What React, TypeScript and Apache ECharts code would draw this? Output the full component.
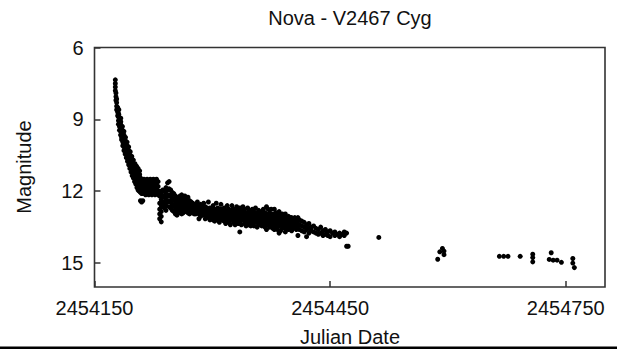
import React, { useEffect, useRef } from "react";
import * as echarts from "echarts";

const JD0 = 2454150;

// [days after JD0, magnitudes observed around that day]
const declineObs: [number, number[]][] = [
  [26.5, [7.35, 7.5, 7.65, 7.8]],
  [27.3, [7.9, 8.05, 8.2]],
  [28.2, [8.15, 8.3, 8.45, 8.6]],
  [29.5, [8.5, 8.7, 8.85]],
  [30.5, [8.75, 8.9, 9.05, 9.2]],
  [31.8, [8.95, 9.15, 9.3, 9.45]],
  [33.2, [9.2, 9.35, 9.5, 9.65]],
  [34.5, [9.4, 9.55, 9.75, 9.85]],
  [36, [9.6, 9.8, 9.95, 10.1]],
  [37.5, [9.8, 10.0, 10.15, 10.3]],
  [39, [9.95, 10.15, 10.3, 10.45]],
  [40.5, [10.1, 10.3, 10.45, 10.6]],
  [42, [10.25, 10.45, 10.6, 10.75]],
  [43.5, [10.4, 10.6, 10.75, 10.9]],
  [45, [10.55, 10.75, 10.9, 11.05]],
  [46.5, [10.7, 10.9, 11.05, 11.2]],
  [48, [10.85, 11.0, 11.2, 11.35]],
  [49.5, [10.95, 11.15, 11.3, 11.45]],
  [51, [11.1, 11.3, 11.45, 11.6]],
  [52.5, [11.15, 11.35, 11.55, 11.7]],
  [54, [11.3, 11.5, 11.65, 11.85]],
  [55.5, [11.35, 11.55, 11.75, 11.95]],
  [57, [11.4, 11.6, 11.8, 12.0]],
];

// later-day observers scattered to the right of the decline
const declineLateObs: [number, number[]][] = [
  [31, [8.6, 8.8]],
  [33.5, [8.95, 9.1]],
  [35.5, [9.3, 9.45]],
  [37.5, [9.5, 9.65]],
  [39.5, [9.75, 9.9]],
  [41.5, [9.95, 10.1]],
  [43.5, [10.15, 10.3]],
  [45.5, [10.35, 10.5]],
  [47.5, [10.55, 10.65]],
  [49.5, [10.7, 10.85]],
  [51.5, [10.85, 10.95]],
  [53.5, [10.95, 11.1]],
  [55.5, [11.05, 11.2]],
  [57.5, [11.15, 11.3]],
];

const plateauObs: [number, number[]][] = [
  [58.5, [11.45, 11.65, 11.85, 12.05, 12.4]],
  [60, [11.5, 11.7, 11.9, 12.1, 12.45]],
  [61.5, [11.55, 11.75, 11.95, 12.1, 12.4]],
  [63, [11.5, 11.7, 11.85, 12.05]],
  [65, [11.55, 11.75, 11.95, 12.15]],
  [67, [11.5, 11.7, 11.9, 12.1]],
  [69, [11.55, 11.8, 12.0, 12.15]],
  [71, [11.5, 11.7, 11.9, 12.1]],
  [73, [11.55, 11.75, 11.95, 12.15]],
  [75, [11.5, 11.7, 11.9, 12.05]],
  [77, [11.55, 11.75, 11.95, 12.15]],
  [79, [11.5, 11.7, 11.9, 12.1]],
  [81, [11.6, 11.8, 12.0, 12.15]],
  [83, [12.0, 12.2, 12.5, 12.75, 12.95, 13.15]],
  [85, [12.1, 12.35, 12.6, 12.85, 13.05, 13.28]],
  [87, [11.95, 12.2, 12.45, 12.65]],
  [89, [12.0, 12.25, 12.5, 12.7]],
  [91, [11.85, 12.1, 12.35, 12.6, 12.8]],
  [93, [11.65, 11.95, 12.2, 12.45]],
  [95, [11.6, 11.9, 12.15, 12.4, 12.65]],
  [97, [11.95, 12.2, 12.45, 12.7]],
  [99, [12.05, 12.3, 12.55, 12.8]],
  [101, [12.1, 12.35, 12.6, 12.85]],
  [103, [12.2, 12.45, 12.7, 12.95]],
  [105, [12.3, 12.55, 12.8, 13.0]],
  [107, [12.25, 12.45, 12.7, 12.9]],
  [109, [12.2, 12.4, 12.6, 12.85]],
];

const slowObs: [number, number[]][] = [
  [111, [12.15, 12.35, 12.55, 12.75, 12.95]],
  [113, [12.3, 12.5, 12.7, 12.9]],
  [115, [12.2, 12.45, 12.65, 12.85]],
  [117, [12.35, 12.55, 12.75]],
  [119, [12.25, 12.45, 12.65, 12.9]],
  [121, [12.4, 12.6, 12.8, 12.95]],
  [123, [12.45, 12.65, 12.85]],
  [125, [12.5, 12.7, 12.9]],
  [127, [12.55, 12.75, 12.95]],
  [129, [12.6, 12.8, 12.95]],
  [131, [12.45, 12.65, 12.85]],
  [133, [12.6, 12.75, 12.95, 13.15]],
  [135, [12.55, 12.7, 12.9, 13.05]],
  [137, [12.65, 12.85, 13.0]],
  [139, [12.5, 12.7, 12.9]],
  [141, [12.65, 12.8, 13.0, 13.15]],
  [143, [12.7, 12.9, 13.05]],
  [145, [12.45, 12.75, 12.95, 13.1]],
  [147, [12.7, 12.85, 13.05, 13.2]],
  [149, [12.75, 12.95, 13.1]],
  [151, [12.6, 12.8, 13.0, 13.2]],
  [153, [12.75, 12.9, 13.1, 13.25]],
  [155, [12.5, 12.8, 12.95, 13.15]],
  [157, [12.7, 12.9, 13.05, 13.2]],
  [159, [12.8, 12.95, 13.15, 13.3]],
  [161, [12.55, 12.75, 12.9, 13.1]],
  [163, [12.8, 13.0, 13.2]],
  [165, [12.7, 12.9, 13.05, 13.25]],
  [167, [12.85, 13.0, 13.15, 13.35]],
  [169, [12.6, 12.8, 13.0, 13.2]],
  [171, [12.75, 12.95, 13.1, 13.3]],
  [173, [12.85, 13.05, 13.2, 13.4]],
  [175, [12.6, 12.8, 12.95, 13.15]],
  [177, [12.75, 12.9, 13.1, 13.3]],
  [179, [12.85, 13.0, 13.2, 13.4]],
  [181, [12.65, 12.85, 13.05, 13.25]],
  [183, [12.8, 12.95, 13.15, 13.35]],
  [185, [12.7, 12.9, 13.1, 13.3, 13.7]],
  [187, [12.85, 13.05, 13.2, 13.4]],
  [189, [12.65, 12.8, 13.0, 13.2]],
  [191, [12.75, 12.95, 13.15, 13.35]],
  [193, [12.9, 13.05, 13.25, 13.45]],
  [195, [12.7, 12.9, 13.1, 13.3]],
  [197, [12.8, 13.0, 13.2, 13.4]],
  [199, [12.9, 13.1, 13.3, 13.45]],
  [201, [12.75, 12.95, 13.15, 13.35]],
  [203, [12.85, 13.05, 13.25, 13.45]],
  [205, [12.7, 12.95, 13.15, 13.3]],
  [207, [12.9, 13.1, 13.3, 13.5]],
  [209, [12.8, 13.0, 13.2, 13.4]],
  [211, [12.95, 13.15, 13.35]],
  [213, [12.85, 13.05, 13.25, 13.45]],
  [215, [12.75, 13.0, 13.2, 13.4]],
  [217, [12.9, 13.1, 13.3, 13.5]],
  [219, [12.65, 12.95, 13.15, 13.35, 13.6]],
  [221, [12.75, 13.0, 13.2, 13.4]],
  [223, [12.9, 13.1, 13.3, 13.5]],
  [225, [12.75, 13.05, 13.25, 13.45]],
  [227, [12.95, 13.15, 13.35, 13.55]],
  [229, [12.75, 13.0, 13.2, 13.4, 13.6]],
  [231, [12.9, 13.1, 13.3, 13.5]],
  [233, [13.0, 13.2, 13.4, 13.6]],
  [235, [12.85, 13.05, 13.25, 13.45, 13.75]],
  [237, [13.0, 13.2, 13.4, 13.65]],
  [239, [12.95, 13.15, 13.35, 13.55]],
  [241, [13.05, 13.25, 13.45]],
  [243, [12.95, 13.15, 13.35, 13.55, 13.7]],
  [245, [13.1, 13.3, 13.5]],
  [247, [13.05, 13.2, 13.4, 13.6]],
  [249, [13.1, 13.3, 13.5]],
  [251, [13.1, 13.25, 13.45, 13.65]],
  [253, [13.15, 13.35, 13.55]],
  [255, [13.1, 13.3, 13.5]],
  [257, [13.15, 13.4, 13.6]],
  [259, [13.1, 13.25, 13.45, 13.85]],
  [261, [13.2, 13.4, 13.6]],
  [264, [13.25, 13.45, 13.65]],
  [267, [13.3, 13.5, 13.7]],
  [270, [13.4, 13.6, 13.9]],
  [273, [13.35, 13.55, 13.75]],
  [276, [13.5, 13.65]],
  [279, [13.45, 13.7]],
  [282, [13.55, 13.75]],
  [285, [13.6, 13.8]],
  [288, [13.5, 13.75]],
  [291, [13.65, 13.85]],
  [294, [13.6, 13.8]],
  [297, [13.7, 13.85]],
  [300, [13.65, 13.9]],
  [303, [13.75]],
  [306, [13.7, 13.85]],
  [309, [13.8]],
  [312, [13.75, 13.9]],
  [315, [13.8]],
  [318, [13.7, 13.85]],
  [321, [13.75, 14.3]],
  [323, [14.3]],
];

const tailObs: [number, number[]][] = [
  [362, [13.93]],
  [437, [14.84]],
  [439.6, [14.53]],
  [443, [14.39]],
  [445, [14.5, 14.65]],
  [515.5, [14.72]],
  [521, [14.72]],
  [526.5, [14.72]],
  [542, [14.72]],
  [558, [14.63, 14.77, 14.95]],
  [579, [14.85]],
  [581.5, [14.57]],
  [584, [14.88]],
  [589, [14.88]],
  [594.5, [14.97]],
  [609, [14.81, 15.0]],
  [611, [15.19]],
];

const xTicks = [2454150, 2454450, 2454750];
const yTicks = [6, 9, 12, 15];

const FONT = "'Liberation Sans', Arial, Helvetica, sans-serif";

export default function App() {
  const ref = useRef<HTMLDivElement>(null);
  useEffect(() => {
    if (!ref.current) return;
    const chart = echarts.init(ref.current, undefined, { renderer: "svg" });
    const points = [
      ...declineObs,
      ...declineLateObs,
      ...plateauObs,
      ...slowObs,
      ...tailObs,
    ].flatMap(([d, ms]) => ms.map((m) => [JD0 + d, m]));
    chart.setOption({
      animation: false,
      backgroundColor: "#ffffff",
      grid: {
        left: 94.5,
        right: 12,
        top: 47.5,
        bottom: 62,
        show: true,
        borderColor: "#333",
        borderWidth: 1.6,
        backgroundColor: "transparent",
      },
      xAxis: {
        type: "value",
        min: 2454150,
        max: 2454800,
        axisLine: { show: false },
        splitLine: { show: false },
        axisTick: {
          show: true,
          inside: true,
          length: 6,
          customValues: xTicks,
          lineStyle: { color: "#333", width: 1.5 },
        },
        axisLabel: {
          customValues: xTicks,
          formatter: (v: number) => String(v),
          fontSize: 20,
          fontFamily: FONT,
          color: "#111",
          margin: 11,
        },
      },
      yAxis: {
        type: "value",
        inverse: true,
        min: 6,
        max: 16,
        axisLine: { show: false },
        splitLine: { show: false },
        axisTick: {
          show: true,
          inside: true,
          length: 6,
          customValues: yTicks,
          lineStyle: { color: "#333", width: 1.5 },
        },
        axisLabel: {
          customValues: yTicks,
          formatter: (v: number) => String(v),
          fontSize: 20,
          fontFamily: FONT,
          color: "#111",
          margin: 11,
        },
      },
      graphic: [
        {
          type: "text",
          x: 350,
          y: 18,
          style: {
            text: "Nova - V2467 Cyg",
            fontSize: 20,
            fontFamily: FONT,
            fill: "#111",
            textAlign: "center",
            textVerticalAlign: "middle",
          },
        },
        {
          type: "text",
          x: 350,
          y: 337,
          style: {
            text: "Julian Date",
            fontSize: 20,
            fontFamily: FONT,
            fill: "#111",
            textAlign: "center",
            textVerticalAlign: "middle",
          },
        },
        {
          type: "text",
          x: 24,
          y: 167,
          rotation: Math.PI / 2,
          style: {
            text: "Magnitude",
            fontSize: 20,
            fontFamily: FONT,
            fill: "#111",
            textAlign: "center",
            textVerticalAlign: "middle",
          },
        },
        {
          type: "rect",
          shape: { x: 0, y: 346.5, width: 617, height: 2.5 },
          style: { fill: "#000" },
        },
      ],
      series: [
        {
          type: "scatter",
          data: points,
          symbol: "circle",
          symbolSize: 5,
          itemStyle: { color: "#000", opacity: 1 },
        },
      ],
    });
    return () => chart.dispose();
  }, []);
  return (
    <div
      ref={ref}
      style={{ position: "fixed", left: 0, top: 0, width: 617, height: 349 }}
    />
  );
}
